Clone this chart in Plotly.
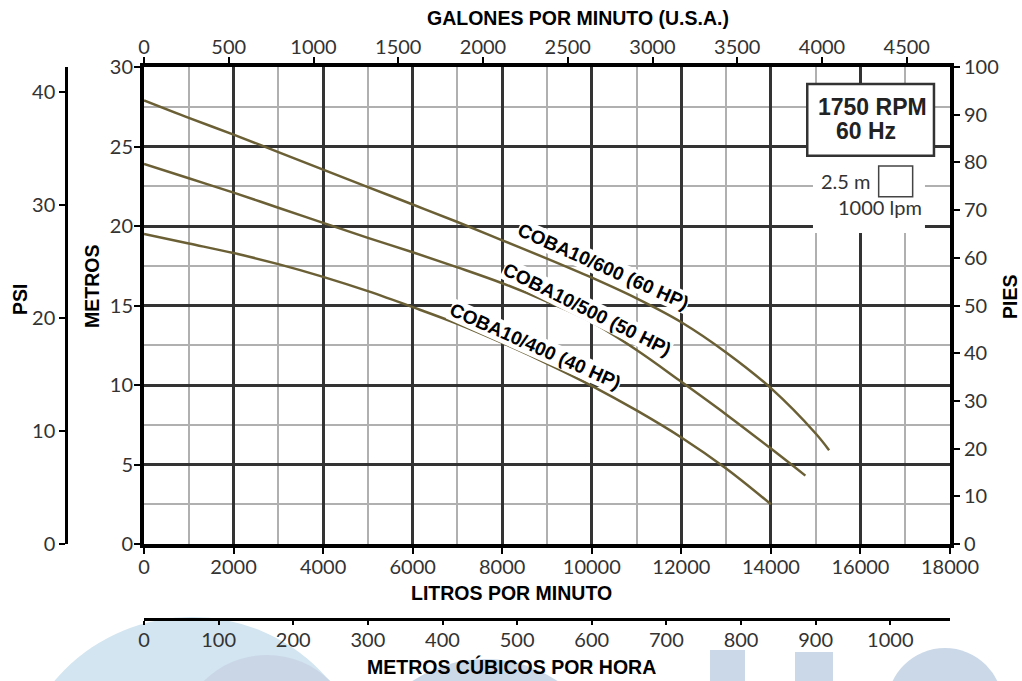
import plotly.graph_objects as go

# ---------------- data ----------------
lpm_60 = [0, 1000, 2000, 3000, 4000, 5000, 6000, 7000, 8000, 9000, 10000, 11000, 12000, 13000, 14000, 15000, 15300]
head_60 = [27.9, 26.8, 25.75, 24.65, 23.55, 22.45, 21.35, 20.25, 19.1, 17.95, 16.75, 15.45, 13.95, 12.05, 9.8, 6.95, 5.9]

lpm_50 = [0, 1000, 2000, 3000, 4000, 5000, 6000, 7000, 8000, 9000, 10000, 11000, 12000, 13000, 14000, 14770]
head_50 = [23.9, 23.0, 22.1, 21.15, 20.2, 19.25, 18.35, 17.4, 16.4, 15.25, 13.95, 12.2, 10.2, 8.15, 6.0, 4.3]

lpm_40 = [0, 1000, 2000, 3000, 4000, 5000, 6000, 7000, 8000, 9000, 10000, 11000, 12000, 13000, 14000]
head_40 = [19.5, 18.9, 18.3, 17.6, 16.8, 15.9, 14.9, 13.85, 12.65, 11.35, 9.95, 8.4, 6.7, 4.75, 2.5]

series_names = ["COBA10/600 (60 HP)", "COBA10/500 (50 HP)", "COBA10/400 (40 HP)"]

LPM_MAX = 18000
M_MAX = 30
GPM_MAX = LPM_MAX / 3.785411784
M3H_MAX = LPM_MAX / 16.6667
PIES_MAX = 100
PSI_MAX = 42.2

W, H = 1022, 681
def px(v):
    return v / W
def py(v):
    return 1 - v / H

CURVE = "#6b6035"
TICKFONT = dict(family="Lato, Open Sans, sans-serif", size=20, color="#333333")
BOLD = "Liberation Sans, Arial"

fig = go.Figure()
for xs, ys, nm in [(lpm_60, head_60, series_names[0]),
                   (lpm_50, head_50, series_names[1]),
                   (lpm_40, head_40, series_names[2])]:
    fig.add_trace(go.Scatter(x=xs, y=ys, mode="lines", name=nm,
                             line=dict(color=CURVE, width=2.5, shape="spline", smoothing=1.0),
                             showlegend=False, hoverinfo="x+y"))

# empty traces to attach the secondary axes
fig.add_trace(go.Scatter(x=[None], y=[None], xaxis="x2", yaxis="y2", showlegend=False, hoverinfo="skip"))
fig.add_trace(go.Scatter(x=[None], y=[None], xaxis="x", yaxis="y3", showlegend=False, hoverinfo="skip"))
fig.add_trace(go.Scatter(x=[None], y=[None], xaxis="x3", yaxis="y", showlegend=False, hoverinfo="skip"))

xdom = [px(144), px(950)]
ydom = [py(544), py(67)]

common = dict(ticks="outside", ticklen=6, tickwidth=2, tickcolor="black",
              showline=True, linecolor="black", zeroline=False, tickfont=TICKFONT,
              exponentformat="none", separatethousands=False, tickformat="d",
              automargin=False, fixedrange=True)

fig.update_layout(
    width=W, height=H, autosize=False,
    margin=dict(l=0, r=0, t=0, b=0, pad=0, autoexpand=False),
    paper_bgcolor="white", plot_bgcolor="white",
    showlegend=False,
    xaxis=dict(domain=xdom, range=[0, LPM_MAX], tick0=0, dtick=2000, anchor="y",
               showgrid=True, gridcolor="#333333", gridwidth=2.5, linewidth=4,
               minor=dict(dtick=1000, showgrid=True, gridcolor="#b0b0b0", gridwidth=1.5),
               ticklabelstandoff=-4, **common),
    yaxis=dict(domain=ydom, range=[0, M_MAX], tick0=0, dtick=5, anchor="x",
               showgrid=True, gridcolor="#333333", gridwidth=2.5, linewidth=4,
               minor=dict(dtick=2.5, showgrid=True, gridcolor="#b0b0b0", gridwidth=1.5),
               ticklabelstandoff=-3, **common),
    xaxis2=dict(overlaying="x", side="top", anchor="y", range=[0, GPM_MAX], tick0=0, dtick=500,
                showgrid=False, linewidth=4, ticklabelstandoff=-5, **common),
    yaxis2=dict(overlaying="y", side="right", anchor="x", range=[0, PIES_MAX], tick0=0, dtick=10,
                showgrid=False, linewidth=4, **common),
    yaxis3=dict(overlaying="y", side="left", anchor="free", position=px(66), range=[0, PSI_MAX],
                tick0=0, dtick=10, showgrid=False, linewidth=2.5, **common),
    xaxis3=dict(overlaying="x", side="bottom", anchor="free", position=py(619), range=[0, M3H_MAX],
                tick0=0, dtick=100, showgrid=False, linewidth=2.5, ticklabelstandoff=-2,
                **{**common, "ticklen": 4}),
)

shapes = []
# watermark (pale logo at the bottom)
shapes.append(dict(type="circle", xref="paper", yref="paper", layer="below",
                   x0=px(12), x1=px(372), y0=py(977), y1=py(617),
                   fillcolor="#d2e5f0", line=dict(width=0)))
shapes.append(dict(type="circle", xref="paper", yref="paper", layer="below",
                   x0=px(177), x1=px(357), y0=py(835), y1=py(655),
                   fillcolor="#cad6e6", line=dict(width=0)))
shapes.append(dict(type="circle", xref="paper", yref="paper", layer="below",
                   x0=px(354), x1=px(616), y0=py(921), y1=py(659),
                   fillcolor="#cad8e8", line=dict(width=0)))
shapes.append(dict(type="rect", xref="paper", yref="paper", layer="below",
                   x0=px(710), x1=px(745), y0=py(700), y1=py(650),
                   fillcolor="#cad8e8", line=dict(width=0)))
shapes.append(dict(type="rect", xref="paper", yref="paper", layer="below",
                   x0=px(795), x1=px(833), y0=py(700), y1=py(652),
                   fillcolor="#cad8e8", line=dict(width=0)))
shapes.append(dict(type="circle", xref="paper", yref="paper", layer="below",
                   x0=px(887), x1=px(1003), y0=py(764), y1=py(648),
                   fillcolor="#cad8e8", line=dict(width=0)))

# white mask behind the scale legend
shapes.append(dict(type="rect", xref="x", yref="y", layer="above",
                   x0=14940, x1=17441, y0=19.56, y1=24.4,
                   fillcolor="white", line=dict(width=0)))
# RPM box
shapes.append(dict(type="rect", xref="x", yref="y", layer="above",
                   x0=14812, x1=17642, y0=24.42, y1=28.93,
                   fillcolor="white", line=dict(color="#333333", width=2.5)))
# little scale square
shapes.append(dict(type="rect", xref="x", yref="y", layer="above",
                   x0=16407, x1=17166, y0=21.84, y1=23.77,
                   fillcolor="white", line=dict(color="#444444", width=1.5)))
fig.update_layout(shapes=shapes)

ann = []
def title(text, x, y, angle=0, size=19.5):
    ann.append(dict(text="<b>" + text + "</b>", xref="paper", yref="paper", x=px(x), y=py(y),
                    xanchor="center", yanchor="middle", showarrow=False, textangle=angle,
                    font=dict(family=BOLD, size=size, color="black")))

title("GALONES POR MINUTO (U.S.A.)", 578, 18)
title("LITROS POR MINUTO", 511, 593)
title("METROS CÚBICOS POR HORA", 511, 666)
title("PSI", 20, 300, -90)
title("METROS", 92, 287, -90)
title("PIES", 1010, 297, -90)

ann.append(dict(text="<b>1750 RPM</b>", xref="x", yref="y", x=16280, y=27.5, showarrow=False,
                xanchor="center", yanchor="middle",
                font=dict(family=BOLD, size=23, color="#222222")))
ann.append(dict(text="<b>60 Hz</b>", xref="x", yref="y", x=16123, y=25.97, showarrow=False,
                xanchor="center", yanchor="middle",
                font=dict(family=BOLD, size=23, color="#222222")))
ann.append(dict(text="2.5 m", xref="x", yref="y", x=15677, y=22.85, showarrow=False,
                xanchor="center", yanchor="middle", font=TICKFONT))
ann.append(dict(text="1000 lpm", xref="x", yref="y", x=16436, y=21.21, showarrow=False,
                xanchor="center", yanchor="middle", font=TICKFONT))

label_pos = [(10261, 17.48, 24), (9904, 14.78, 26.5), (8754, 12.45, 24)]
for nm, (lx, ly, ang) in zip(series_names, label_pos):
    ann.append(dict(text="<b>" + nm + "</b>", xref="x", yref="y", x=lx, y=ly, showarrow=False,
                    textangle=ang, xanchor="center", yanchor="middle", bgcolor="white",
                    borderpad=0,
                    font=dict(family=BOLD, size=19, color="black")))
fig.update_layout(annotations=ann)

fig.write_html("out.html", config={"displayModeBar": False},
               post_script="document.body.style.margin='0';")
